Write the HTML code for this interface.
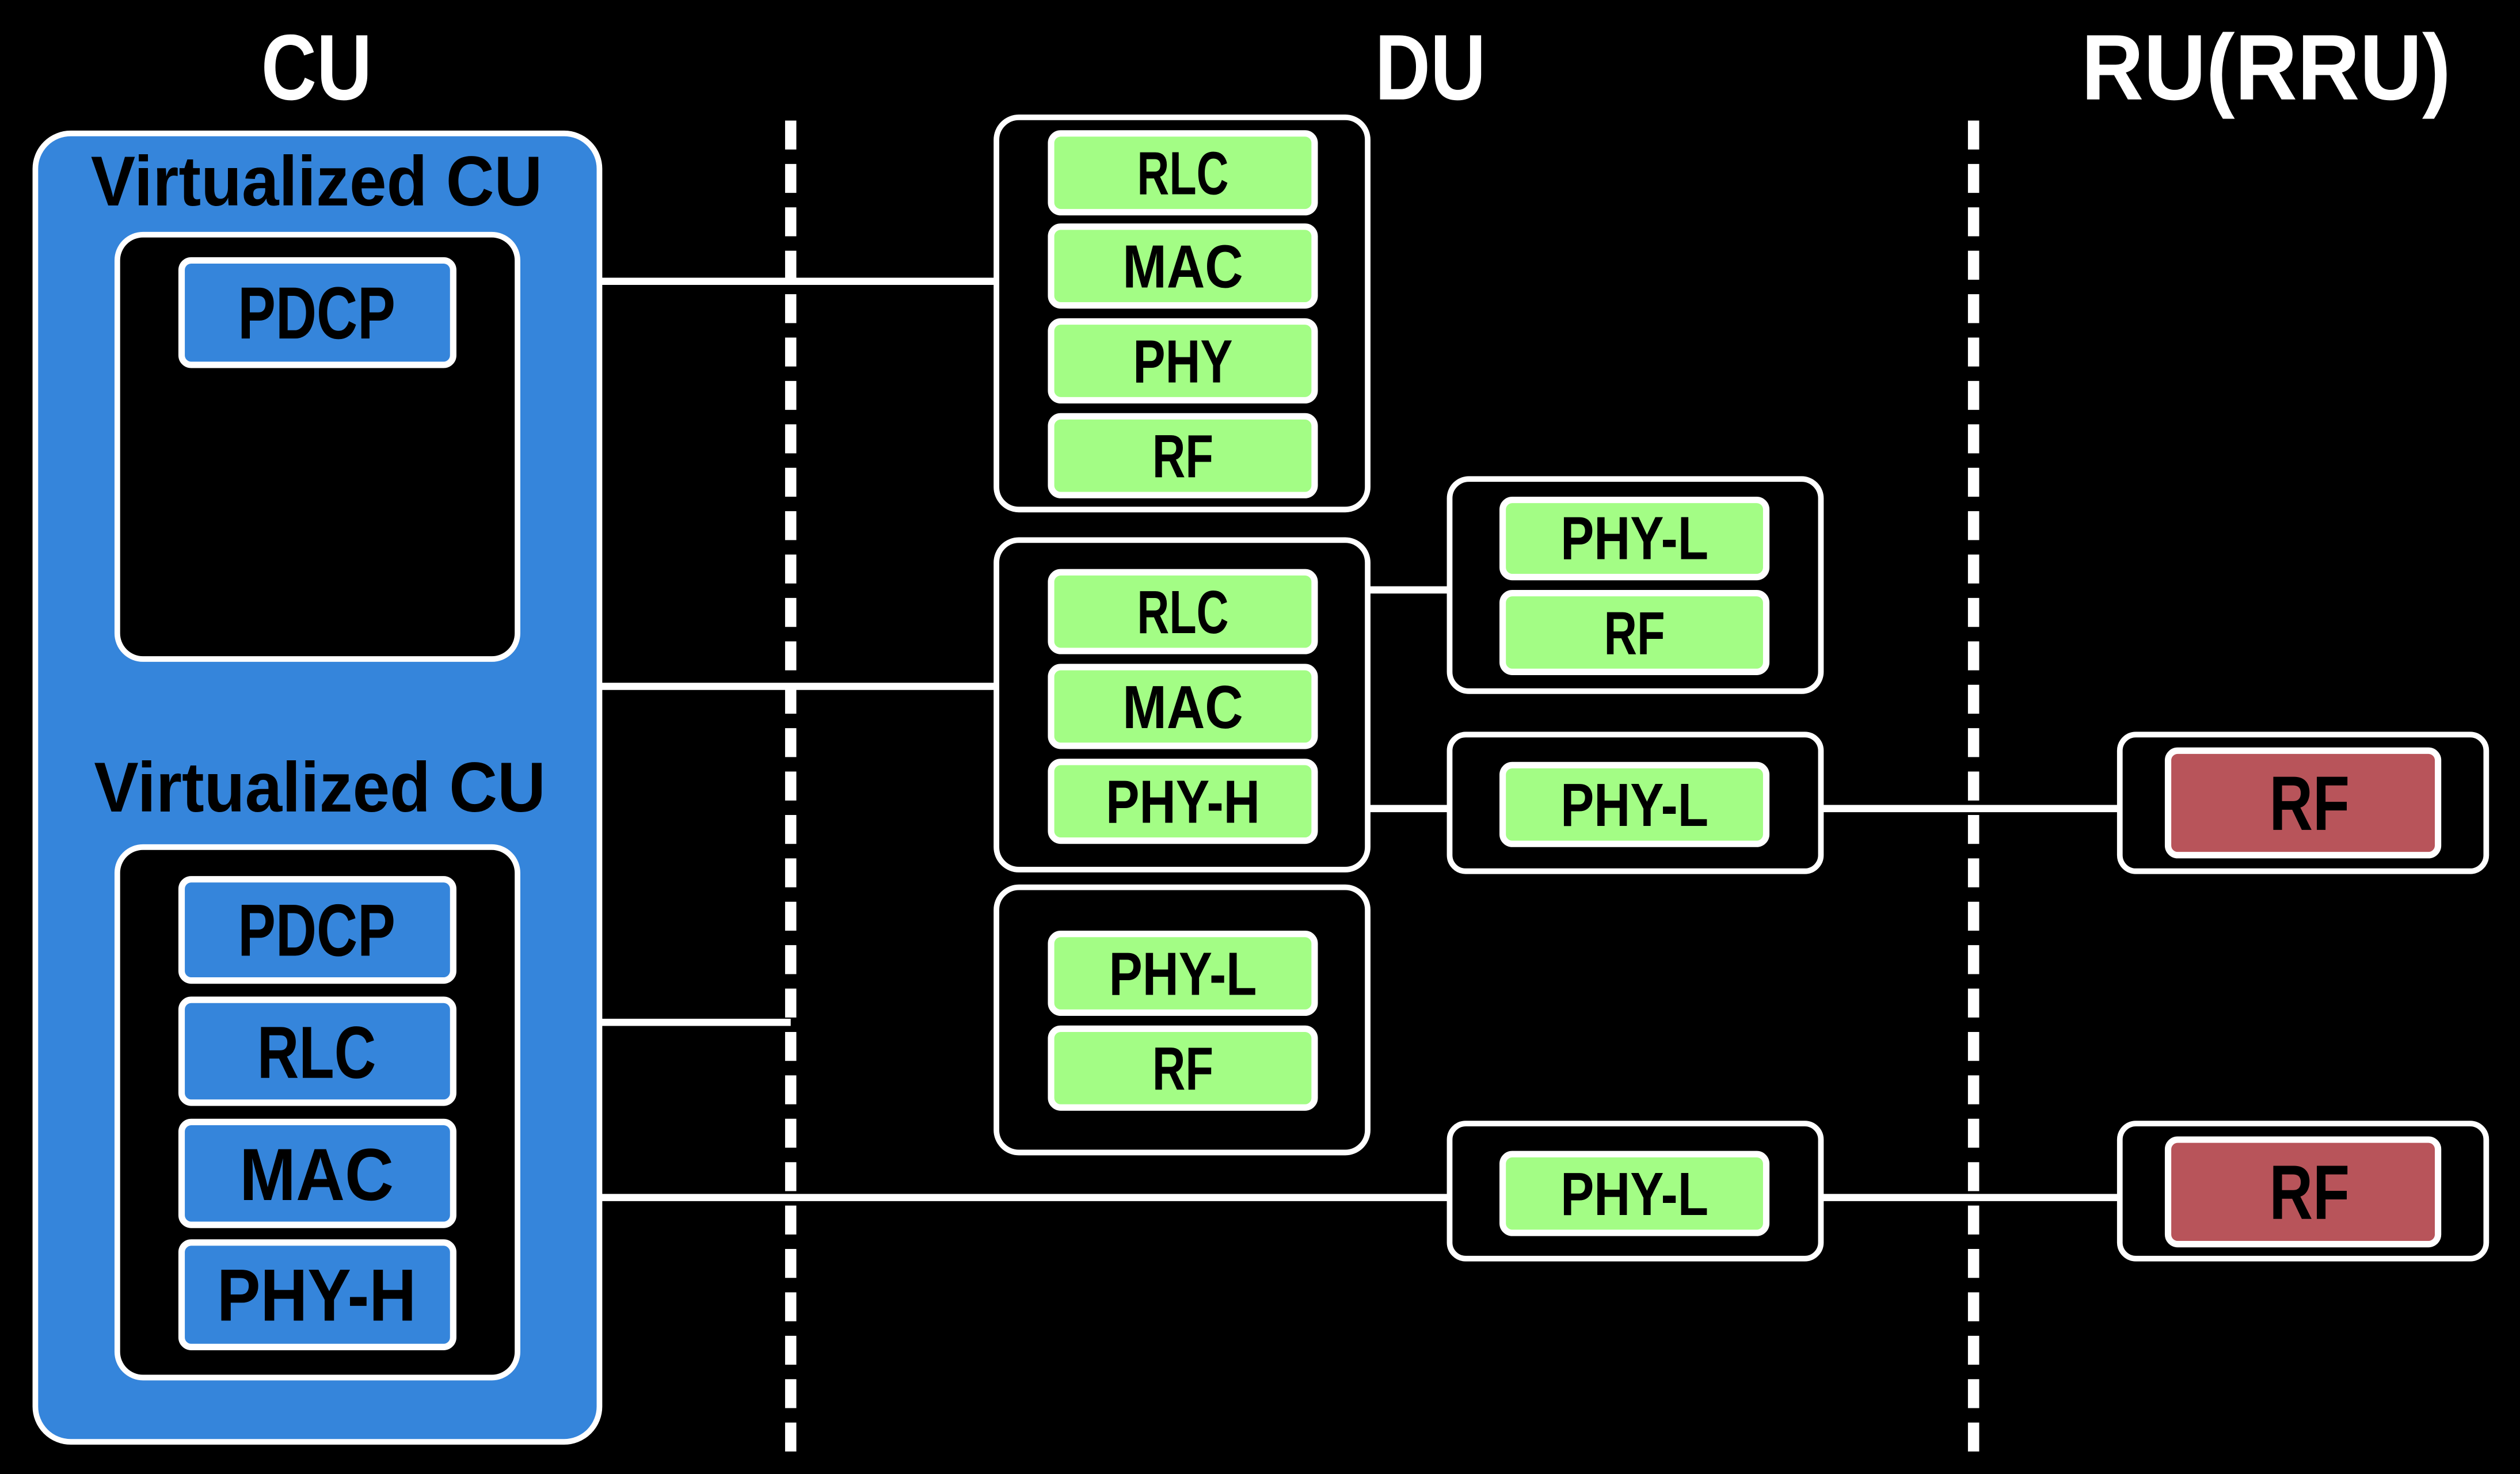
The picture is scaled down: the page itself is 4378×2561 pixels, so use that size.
<!DOCTYPE html>
<html><head><meta charset="utf-8"><style>
html,body{margin:0;padding:0;background:#000;}
svg{display:block;}
text{font-family:"Liberation Sans",sans-serif;font-weight:bold;text-anchor:middle;dominant-baseline:central;}
</style></head><body>
<svg width="4378" height="2561" viewBox="0 0 1568 917" preserveAspectRatio="none" xmlns="http://www.w3.org/2000/svg">
<rect width="1568" height="917" fill="#000"/>
<g fill="#fff">
<text x="197" y="42" font-size="58" textLength="69" lengthAdjust="spacingAndGlyphs">CU</text>
<text x="890" y="42" font-size="58" textLength="69" lengthAdjust="spacingAndGlyphs">DU</text>
<text x="1410" y="42" font-size="58" textLength="230" lengthAdjust="spacingAndGlyphs">RU(RRU)</text>
</g>
<g stroke="#fff" stroke-width="7" stroke-dasharray="18,9">
<line x1="492" y1="75" x2="492" y2="912"/>
<line x1="1228" y1="75" x2="1228" y2="912"/>
</g>
<g stroke="#fff" stroke-width="4.5" fill="none">
<line x1="373" y1="175" x2="620" y2="175"/>
<line x1="373" y1="427" x2="620" y2="427"/>
<line x1="373" y1="636" x2="492" y2="636"/>
<line x1="373" y1="745" x2="902" y2="745"/>
<line x1="851" y1="367" x2="902" y2="367"/>
<line x1="851" y1="503" x2="902" y2="503"/>
<line x1="1133" y1="503" x2="1319" y2="503"/>
<line x1="1133" y1="745" x2="1319" y2="745"/>
</g>
<rect x="22" y="83" width="351" height="814" rx="22" fill="#3585db" stroke="#fff" stroke-width="3.5"/>
<g fill="#000">
<text x="197" y="113" font-size="44" textLength="281" lengthAdjust="spacingAndGlyphs">Virtualized CU</text>
<text x="199" y="490" font-size="44" textLength="281" lengthAdjust="spacingAndGlyphs">Virtualized CU</text></g>
<g stroke="#fff" stroke-width="3.5" fill="#000">
<rect x="73" y="146" width="249" height="264" rx="16"/>
<rect x="73" y="527" width="249" height="330" rx="16"/>
<rect x="620" y="73" width="231" height="244" rx="14"/>
<rect x="620" y="336" width="231" height="205" rx="14"/>
<rect x="620" y="552" width="231" height="165" rx="14"/>
<rect x="902" y="298" width="231" height="132" rx="12"/>
<rect x="902" y="457" width="231" height="85" rx="10"/>
<rect x="902" y="699" width="231" height="84" rx="10"/>
<rect x="1319" y="457" width="228" height="85" rx="10"/>
<rect x="1319" y="699" width="228" height="84" rx="10"/>
</g>
<g stroke="#fff" stroke-width="4" fill="#3585db">
<rect x="113" y="162" width="169" height="65" rx="6"/>
<rect x="113" y="547" width="169" height="63" rx="6"/>
<rect x="113" y="622" width="169" height="64" rx="6"/>
<rect x="113" y="698" width="169" height="64" rx="6"/>
<rect x="113" y="773" width="169" height="65" rx="6"/>
</g>
<g fill="#000">
<text x="197" y="195" font-size="46" textLength="98" lengthAdjust="spacingAndGlyphs">PDCP</text>
<text x="197" y="579" font-size="46" textLength="98" lengthAdjust="spacingAndGlyphs">PDCP</text>
<text x="197" y="655" font-size="46" textLength="74" lengthAdjust="spacingAndGlyphs">RLC</text>
<text x="197" y="731" font-size="46" textLength="96" lengthAdjust="spacingAndGlyphs">MAC</text>
<text x="197" y="806" font-size="46" textLength="124" lengthAdjust="spacingAndGlyphs">PHY-H</text>
</g>
<g stroke="#fff" stroke-width="4" fill="#a3fd85">
<rect x="654" y="83" width="164" height="49" rx="6"/>
<rect x="654" y="141" width="164" height="49" rx="6"/>
<rect x="654" y="200" width="164" height="49" rx="6"/>
<rect x="654" y="259" width="164" height="49" rx="6"/>
<rect x="654" y="356" width="164" height="49" rx="6"/>
<rect x="654" y="415" width="164" height="49" rx="6"/>
<rect x="654" y="474" width="164" height="49" rx="6"/>
<rect x="654" y="581" width="164" height="49" rx="6"/>
<rect x="654" y="640" width="164" height="49" rx="6"/>
<rect x="935" y="311" width="164" height="48" rx="6"/>
<rect x="935" y="369" width="164" height="49" rx="6"/>
<rect x="935" y="476" width="164" height="49" rx="6"/>
<rect x="935" y="718" width="164" height="49" rx="6"/>
</g>
<g fill="#000" font-size="38">
<text x="736" y="108" font-size="38" textLength="57" lengthAdjust="spacingAndGlyphs">RLC</text>
<text x="736" y="166" font-size="38" textLength="75" lengthAdjust="spacingAndGlyphs">MAC</text>
<text x="736" y="225" font-size="38" textLength="62" lengthAdjust="spacingAndGlyphs">PHY</text>
<text x="736" y="284" font-size="38" textLength="38" lengthAdjust="spacingAndGlyphs">RF</text>
<text x="736" y="381" font-size="38" textLength="57" lengthAdjust="spacingAndGlyphs">RLC</text>
<text x="736" y="440" font-size="38" textLength="75" lengthAdjust="spacingAndGlyphs">MAC</text>
<text x="736" y="499" font-size="38" textLength="96" lengthAdjust="spacingAndGlyphs">PHY-H</text>
<text x="736" y="606" font-size="38" textLength="92" lengthAdjust="spacingAndGlyphs">PHY-L</text>
<text x="736" y="665" font-size="38" textLength="38" lengthAdjust="spacingAndGlyphs">RF</text>
<text x="1017" y="335" font-size="38" textLength="92" lengthAdjust="spacingAndGlyphs">PHY-L</text>
<text x="1017" y="394" font-size="38" textLength="38" lengthAdjust="spacingAndGlyphs">RF</text>
<text x="1017" y="501" font-size="38" textLength="92" lengthAdjust="spacingAndGlyphs">PHY-L</text>
<text x="1017" y="743" font-size="38" textLength="92" lengthAdjust="spacingAndGlyphs">PHY-L</text>
</g>
<g stroke="#fff" stroke-width="4" fill="#b8545a">
<rect x="1349" y="467" width="168" height="65" rx="6"/>
<rect x="1349" y="709" width="168" height="65" rx="6"/>
</g>
<g fill="#000">
<text x="1437" y="500" font-size="48" textLength="50" lengthAdjust="spacingAndGlyphs">RF</text>
<text x="1437" y="742" font-size="48" textLength="50" lengthAdjust="spacingAndGlyphs">RF</text>
</g>
</svg>
</body></html>
